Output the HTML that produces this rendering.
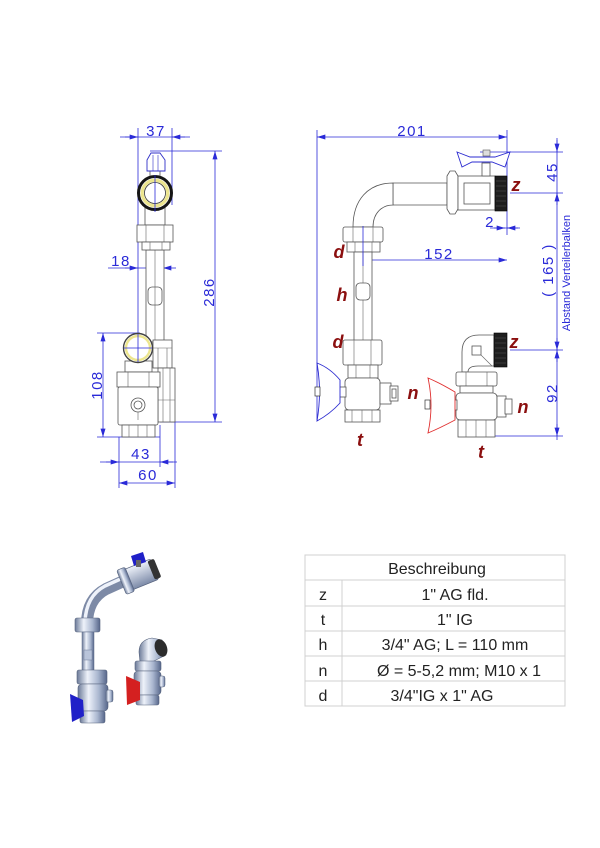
<!DOCTYPE html>
<html><head><meta charset="utf-8"><style>
html,body{margin:0;padding:0;background:#fff;}
svg{display:block;}
.d{stroke:#2a2ad8;stroke-width:0.8;fill:none;}
.dt{fill:#2a2ad8;font-family:"Liberation Sans",sans-serif;font-size:15px;letter-spacing:1.5px;}
.p{stroke:#555;stroke-width:0.8;fill:#fff;}
.pl{stroke:#666;stroke-width:0.6;fill:none;}
.lb{fill:#8b0f0f;font-family:"Liberation Sans",sans-serif;font-size:18px;font-weight:bold;font-style:italic;}
.tb{fill:#222;font-family:"Liberation Sans",sans-serif;font-size:16px;}
.tl{stroke:#d0d0d0;stroke-width:1;fill:none;}
</style></head><body>
<svg width="600" height="848" viewBox="0 0 600 848" xmlns="http://www.w3.org/2000/svg">
<defs>
<marker id="ar" viewBox="0 0 10 6" refX="10" refY="3" markerWidth="9" markerHeight="5" markerUnits="userSpaceOnUse" orient="auto-start-reverse"><path d="M0,0L10,3L0,6z" fill="#2a2ad8"/></marker>
<linearGradient id="mg" x1="0" y1="0" x2="1" y2="0"><stop offset="0" stop-color="#6b7a98"/><stop offset="0.35" stop-color="#eef2fa"/><stop offset="0.7" stop-color="#a9b6cf"/><stop offset="1" stop-color="#56668a"/></linearGradient>
<linearGradient id="mg2" x1="0" y1="0" x2="0" y2="1"><stop offset="0" stop-color="#eef2fa"/><stop offset="1" stop-color="#7c8aa8"/></linearGradient>
</defs>

<!-- ============ LEFT DRAWING ============ -->
<path class="d" d="M120,137H190 M138,128V335 M172,128V205 M150,151H222 M160,422H222 M108,268H170 M97,333H140 M97,437H160 M100,462H177 M119,437V488 M160,425V467 M175,422V488"/>
<path class="d" marker-end="url(#ar)" d="M125,137L138,137"/>
<path class="d" marker-end="url(#ar)" d="M185,137L172,137"/>
<path class="d" marker-start="url(#ar)" marker-end="url(#ar)" d="M215,151V422"/>
<path class="d" marker-end="url(#ar)" d="M125,268L138,268"/>
<path class="d" marker-end="url(#ar)" d="M176,268L163,268"/>
<path class="d" marker-start="url(#ar)" marker-end="url(#ar)" d="M103,333V437"/>
<path class="d" marker-end="url(#ar)" d="M106,462L119,462"/>
<path class="d" marker-end="url(#ar)" d="M173,462L160,462"/>
<path class="d" marker-start="url(#ar)" marker-end="url(#ar)" d="M119,483H175"/>
<text class="dt" x="156" y="136" text-anchor="middle">37</text>
<text class="dt" x="121" y="266" text-anchor="middle">18</text>
<text class="dt" transform="translate(214,292) rotate(-90)" text-anchor="middle">286</text>
<text class="dt" transform="translate(102,385) rotate(-90)" text-anchor="middle">108</text>
<text class="dt" x="141" y="459" text-anchor="middle">43</text>
<text class="dt" x="148" y="480" text-anchor="middle">60</text>

<rect class="p" x="146" y="250" width="18" height="92"/>
<line class="pl" x1="155" y1="250" x2="155" y2="342"/>
<rect class="p" x="148" y="287" width="14" height="18" rx="4"/>
<line class="pl" x1="155" y1="287" x2="155" y2="305"/>
<rect class="p" x="145" y="205" width="20" height="20"/>
<rect class="p" x="137" y="225" width="36" height="17"/>
<path class="pl" d="M146,225V242 M164,225V242"/>
<rect class="p" x="142" y="242" width="28" height="8"/>
<path class="pl" d="M150,242V250 M162,242V250"/>
<rect class="p" x="150" y="166" width="10" height="12"/>
<path d="M147,171V160L151,153H160L165,160V171Z" fill="#fff" stroke="#3030c8" stroke-width="0.9"/>
<path d="M153,155V171 M158,155V171" stroke="#3030c8" stroke-width="0.6"/>
<circle cx="155" cy="193" r="16.5" fill="#fff" stroke="#151515" stroke-width="3"/>
<circle cx="155" cy="193" r="12.8" fill="#fff" stroke="#ece58e" stroke-width="3.2"/>
<circle cx="155" cy="193" r="10.5" fill="#fff" stroke="#333" stroke-width="0.8"/>
<line class="d" x1="155" y1="175" x2="155" y2="212"/>
<rect class="p" x="153" y="340" width="19" height="28"/>
<path class="pl" d="M153,348H172 M158,348V368 M167,348V368"/>
<rect class="p" x="158" y="368" width="17" height="54"/>
<path class="pl" d="M163,368V422 M170,368V422 M158,400H175"/>
<rect class="p" x="125" y="361" width="27" height="11"/>
<rect class="p" x="117" y="372" width="43" height="15"/>
<path class="pl" d="M128,372V387 M149,372V387"/>
<rect class="p" x="118" y="387" width="40" height="38" rx="2"/>
<circle class="p" cx="138" cy="405" r="7"/>
<circle class="p" cx="138" cy="405" r="4"/>
<path class="pl" d="M138,412V420"/>
<rect class="p" x="122" y="425" width="33" height="12"/>
<path class="pl" d="M129,425V437 M138,425V437 M147,425V437"/>
<circle cx="138" cy="348" r="14.5" fill="#fff" stroke="#444" stroke-width="1.4"/>
<circle cx="138" cy="348" r="12" fill="#fff" stroke="#ede68e" stroke-width="2.4"/>
<path class="d" d="M124,348H152 M138,334V362"/>

<!-- ============ RIGHT DRAWING ============ -->
<path class="d" d="M317,130V420 M507,130V235 M363,226V266 M480,152H563 M510,193H563 M510,350H563 M490,436H563 M557,138V440 M490,228H520"/>
<path class="d" marker-start="url(#ar)" marker-end="url(#ar)" d="M317,137H507"/>
<path class="d" marker-start="url(#ar)" marker-end="url(#ar)" d="M363,260H507"/>
<path class="d" marker-end="url(#ar)" d="M494,228L505,228"/>
<path class="d" marker-end="url(#ar)" d="M518,228L507,228"/>
<path class="d" marker-end="url(#ar)" d="M557,140L557,152"/>
<path class="d" marker-end="url(#ar)" d="M557,205L557,193"/>
<path class="d" marker-end="url(#ar)" d="M557,338L557,350"/>
<path class="d" marker-end="url(#ar)" d="M557,362L557,350"/>
<path class="d" marker-end="url(#ar)" d="M557,424L557,436"/>
<text class="dt" x="412" y="136" text-anchor="middle">201</text>
<text class="dt" x="439" y="259" text-anchor="middle">152</text>
<text class="dt" x="490" y="227" text-anchor="middle">2</text>
<text class="dt" transform="translate(557,172) rotate(-90)" text-anchor="middle">45</text>
<text class="dt" transform="translate(553,270) rotate(-90)" text-anchor="middle">( 165 )</text>
<text class="dt" transform="translate(570,273) rotate(-90)" text-anchor="middle" style="font-size:11px;letter-spacing:0">Abstand Verteilerbalken</text>
<text class="dt" transform="translate(557,393) rotate(-90)" text-anchor="middle">92</text>

<path class="p" d="M393,183H447V205H393Z"/>
<path class="p" d="M393,183C368,183 353,200 353,227H373C373,213 382,205 393,205Z"/>
<rect class="p" x="343" y="227" width="40" height="15" rx="2"/>
<path class="pl" d="M353,227V242 M373,227V242"/>
<rect class="p" x="347" y="242" width="33" height="10"/>
<path class="pl" d="M355,242V252 M372,242V252"/>
<rect class="p" x="354" y="252" width="18" height="90"/>
<line class="pl" x1="363" y1="252" x2="363" y2="342"/>
<rect class="p" x="356" y="283" width="14" height="17" rx="4"/>
<line class="d" x1="363" y1="226" x2="363" y2="266"/>
<path class="p" d="M447,176L450,171H455L458,176V209L455,214H450L447,209Z"/>
<rect class="p" x="458" y="176" width="37" height="34"/>
<rect class="p" x="464" y="183" width="26" height="21"/>
<rect x="495" y="176" width="12" height="35" fill="#1e1e1e" stroke="#000" stroke-width="0.6"/>
<path d="M496,181H506M496,186H506M496,191H506M496,196H506M496,201H506M496,206H506" stroke="#555" stroke-width="0.6"/>
<rect class="p" x="482" y="163" width="8" height="13"/>
<path d="M457,152L470,157H495L510,152L505,167L492,162H472L462,167Z" fill="#fff" stroke="#2b2bd0" stroke-width="0.9"/>
<rect x="483" y="150" width="7" height="6" fill="#ddd" stroke="#555" stroke-width="0.6"/>
<rect class="p" x="343" y="340" width="39" height="25" rx="2"/>
<path class="pl" d="M354,340V365 M371,340V365"/>
<rect class="p" x="348" y="365" width="30" height="13"/>
<path class="pl" d="M356,365V378 M370,365V378"/>
<rect class="p" x="345" y="378" width="35" height="32" rx="4"/>
<rect class="p" x="345" y="410" width="35" height="12"/>
<path class="pl" d="M352,410V422 M362,410V422 M372,410V422"/>
<rect class="p" x="380" y="383" width="11" height="21"/>
<rect class="p" x="390" y="386" width="8" height="15"/>
<rect class="p" x="392" y="389" width="4" height="9"/>
<rect class="p" x="338" y="387" width="8" height="10"/>
<path d="M317,363Q330,368 340,380V403Q330,414 317,421Q322,392 317,363Z" fill="#fff" stroke="#2b2bd0" stroke-width="0.9"/>
<rect x="315" y="387" width="5" height="9" fill="#fff" stroke="#333" stroke-width="0.7"/>
<path class="p" d="M462,372V352Q462,335 479,335H494V366H478Q468,366 468,372Z"/>
<rect class="p" x="472" y="346" width="9" height="9"/>
<path class="pl" d="M481,355L492,366"/>
<rect x="494" y="333" width="13" height="34" fill="#1e1e1e" stroke="#000" stroke-width="0.6"/>
<path d="M495,338H506M495,343H506M495,348H506M495,353H506M495,358H506M495,363H506" stroke="#555" stroke-width="0.6"/>
<rect class="p" x="456" y="372" width="41" height="14" rx="2"/>
<path class="pl" d="M466,372V386 M487,372V386"/>
<rect class="p" x="460" y="386" width="33" height="7"/>
<rect class="p" x="456" y="393" width="41" height="27" rx="4"/>
<rect class="p" x="458" y="420" width="37" height="17"/>
<path class="pl" d="M466,420V437 M476,420V437 M486,420V437"/>
<rect class="p" x="497" y="396" width="9" height="21"/>
<rect class="p" x="505" y="399" width="7" height="15"/>
<rect class="p" x="450" y="400" width="7" height="10"/>
<path d="M428,378Q440,383 455,392V420Q440,428 428,433Q434,405 428,378Z" fill="#fff" stroke="#e03030" stroke-width="0.9"/>
<rect x="425" y="400" width="5" height="9" fill="#fff" stroke="#333" stroke-width="0.7"/>

<text class="lb" x="516" y="191" text-anchor="middle">z</text>
<text class="lb" x="339" y="258" text-anchor="middle">d</text>
<text class="lb" x="342" y="301" text-anchor="middle">h</text>
<text class="lb" x="338" y="348" text-anchor="middle">d</text>
<text class="lb" x="413" y="399" text-anchor="middle">n</text>
<text class="lb" x="360" y="446" text-anchor="middle">t</text>
<text class="lb" x="514" y="348" text-anchor="middle">z</text>
<text class="lb" x="523" y="413" text-anchor="middle">n</text>
<text class="lb" x="481" y="458" text-anchor="middle">t</text>

<!-- ============ 3D IMAGE ============ -->
<path d="M137,575L106,589Q87,599 87,624" fill="none" stroke="#7d8aa6" stroke-width="12" stroke-linecap="round"/>
<path d="M136,572L105,586Q86,596 85,622" fill="none" stroke="#eef2fa" stroke-width="3.5"/>
<g transform="rotate(-22 140 575)">
<rect x="121" y="564" width="36" height="22" rx="4" fill="url(#mg2)" stroke="#56627c" stroke-width="0.7"/>
<rect x="120" y="562" width="9" height="26" rx="2" fill="url(#mg)" stroke="#56627c" stroke-width="0.6"/>
<rect x="152" y="565" width="7" height="20" rx="2" fill="#333"/>
</g>
<path d="M131,556L143,552L146,562L134,566Z" fill="#2020c8"/>
<rect x="136" y="560" width="5" height="7" fill="#666"/>
<rect x="75" y="618" width="25" height="14" rx="2" fill="url(#mg)" stroke="#56627c" stroke-width="0.6"/>
<rect x="82" y="632" width="12" height="40" fill="url(#mg)" stroke="#5c6a88" stroke-width="0.5"/>
<rect x="84" y="650" width="8" height="10" fill="#b9c4da" stroke="#5c6a88" stroke-width="0.4"/>
<rect x="77" y="670" width="30" height="14" rx="2" fill="url(#mg)" stroke="#56627c" stroke-width="0.6"/>
<rect x="78" y="684" width="30" height="27" rx="4" fill="url(#mg)" stroke="#56627c" stroke-width="0.6"/>
<rect x="80" y="711" width="25" height="12" rx="2" fill="url(#mg)" stroke="#56627c" stroke-width="0.6"/>
<rect x="106" y="690" width="7" height="12" rx="2" fill="url(#mg)" stroke="#56627c" stroke-width="0.5"/>
<path d="M70,694L83,700L84,716L72,722Z" fill="#2020c8"/>
<path d="M139,652Q139,640 152,638L162,640L166,655L152,662L140,662Z" fill="url(#mg)" stroke="#56627c" stroke-width="0.6"/>
<ellipse cx="161" cy="648" rx="6" ry="9" transform="rotate(-20 161 648)" fill="#2c2c2c"/>
<rect x="135" y="661" width="26" height="10" rx="2" fill="url(#mg)" stroke="#56627c" stroke-width="0.6"/>
<rect x="134" y="671" width="27" height="24" rx="4" fill="url(#mg)" stroke="#56627c" stroke-width="0.6"/>
<rect x="136" y="695" width="23" height="10" rx="2" fill="url(#mg)" stroke="#56627c" stroke-width="0.6"/>
<rect x="159" y="676" width="6" height="11" rx="2" fill="url(#mg)" stroke="#56627c" stroke-width="0.5"/>
<path d="M126,676L140,682L140,700L127,705Z" fill="#d42020"/>

<!-- ============ TABLE ============ -->
<path class="tl" d="M305,555H565V706H305Z M305,580H565 M305,606H565 M305,631H565 M305,656H565 M305,681H565 M342,580V706"/>
<text class="tb" x="437" y="574" text-anchor="middle">Beschreibung</text>
<text class="tb" x="323" y="600" text-anchor="middle">z</text>
<text class="tb" x="323" y="625" text-anchor="middle">t</text>
<text class="tb" x="323" y="650" text-anchor="middle">h</text>
<text class="tb" x="323" y="676" text-anchor="middle">n</text>
<text class="tb" x="323" y="701" text-anchor="middle">d</text>
<text class="tb" x="455" y="600" text-anchor="middle">1" AG fld.</text>
<text class="tb" x="455" y="625" text-anchor="middle">1" IG</text>
<text class="tb" x="455" y="650" text-anchor="middle">3/4" AG; L = 110 mm</text>
<text class="tb" x="459" y="676" text-anchor="middle">Ø = 5-5,2 mm; M10 x 1</text>
<text class="tb" x="442" y="701" text-anchor="middle">3/4"IG x 1" AG</text>
</svg>
</body></html>
